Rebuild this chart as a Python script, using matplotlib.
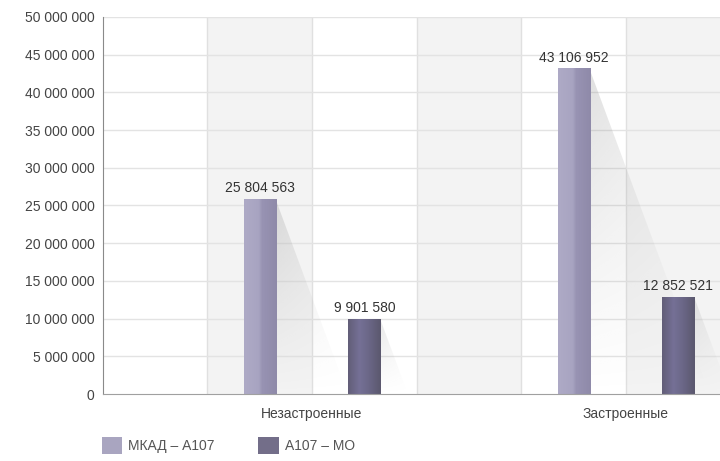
import numpy as np
import matplotlib
matplotlib.use("Agg")
import matplotlib.pyplot as plt
from matplotlib.patches import Patch, Polygon
from matplotlib.colors import to_rgb
from matplotlib.ticker import FuncFormatter

categories = ["Незастроенные", "Застроенные"]
series_names = ["МКАД – А107", "А107 – МО"]
mkad_a107 = [25804563, 43106952]
a107_mo = [9901580, 12852521]
y_ticks = list(range(0, 50_000_001, 5_000_000))

plt.rcParams['font.family'] = ['Liberation Sans', 'DejaVu Sans']


def spaced(v, _pos=None):
    return f"{int(v):,}".replace(",", " ")


W, H = 720, 461
fig = plt.figure(figsize=(W / 100, H / 100), dpi=100)
ax = fig.add_axes([103 / W, 1 - 394 / H, 1 - 103 / W, (394 - 17) / H])
XLIM = (-0.666, 1.30)
YLIM = (0, 50_000_000)
ax.set_xlim(*XLIM)
ax.set_ylim(*YLIM)

x = np.arange(len(categories))

# alternating background bands and vertical separators
edges = (np.arange(7) - 2) / 3
for i in range(len(edges) - 1):
    if i % 2 == 1:
        ax.axvspan(edges[i], edges[i + 1], color='#f3f3f3', lw=0, zorder=0)
for e in edges[1:]:
    ax.axvline(e, color='#e0e0e0', lw=1, zorder=0.5)
for t in y_ticks[1:]:
    ax.axhline(t, color='#e3e3e3', lw=1, zorder=0.5)

bar_w = 0.102
offset = 1 / 6
base_colors = ['#a29ebc', '#6f6a87']
bars_a = ax.bar(x - offset, mkad_a107, bar_w, color=base_colors[0], zorder=2)
bars_b = ax.bar(x + offset, a107_mo, bar_w, color=base_colors[1], zorder=2)


# horizontal shading across each bar
def column_gradient(stops, n=64):
    pos = np.array([s[0] for s in stops])
    cols = np.array([to_rgb(s[1]) for s in stops])
    t = np.linspace(0, 1, n)
    rgb = np.stack([np.interp(t, pos, cols[:, k]) for k in range(3)], axis=-1)
    return rgb[np.newaxis, :, :]


grad_a = column_gradient([(0, '#aeaac6'), (0.45, '#a8a4c1'), (0.55, '#9893b3'), (1, '#8f8aa9')])
grad_b = column_gradient([(0, '#625e78'), (0.35, '#757096'), (0.6, '#6c6889'), (1, '#5b586e')])

# cast shadow to the lower right of each bar
fig.canvas.draw()
to_px = ax.transData
inv = ax.transData.inverted()
slope_px = 0.37  # horizontal px per vertical px


def draw_shadow(rect, strength):
    xr = rect.get_x() + rect.get_width()
    h = rect.get_height()
    p_top = to_px.transform((xr, h))
    p_bot = to_px.transform((xr, 0))
    dx_px = slope_px * (p_top[1] - p_bot[1])
    x_end = inv.transform((p_bot[0] + dx_px, p_bot[1]))[0]
    tri = Polygon([(xr, h), (x_end, 0), (xr, 0)], closed=True,
                  transform=ax.transData, facecolor='none', edgecolor='none')
    ax.add_patch(tri)
    ny, nx = 100, 60
    yy = np.linspace(1, 0, ny)[:, None]
    xx = np.linspace(0, 1, nx)[None, :]
    alpha = strength * (yy ** 1.1) * (0.35 + 0.65 * (1 - xx))
    img = np.zeros((ny, nx, 4))
    img[..., :3] = 0.6
    img[..., 3] = alpha
    im = ax.imshow(img, extent=[xr, x_end, 0, h], aspect='auto',
                   zorder=1, interpolation='bilinear')
    im.set_clip_path(tri)


for rect in bars_a:
    draw_shadow(rect, 0.30)
    ax.imshow(grad_a, extent=[rect.get_x(), rect.get_x() + rect.get_width(), 0, rect.get_height()],
              aspect='auto', zorder=2.1, interpolation='bilinear')
for rect in bars_b:
    draw_shadow(rect, 0.22)
    ax.imshow(grad_b, extent=[rect.get_x(), rect.get_x() + rect.get_width(), 0, rect.get_height()],
              aspect='auto', zorder=2.1, interpolation='bilinear')

ax.bar_label(bars_a, labels=[spaced(v) for v in mkad_a107], padding=3,
             fontsize=10, color='#333333')
ax.bar_label(bars_b, labels=[spaced(v) for v in a107_mo], padding=3,
             fontsize=10, color='#333333')

ax.set_xlim(*XLIM)
ax.set_ylim(*YLIM)
ax.set_yticks(y_ticks)
ax.yaxis.set_major_formatter(FuncFormatter(spaced))
ax.set_xticks(x, categories)
ax.tick_params(axis='y', length=0, pad=6, labelsize=10, colors='#444444')
ax.tick_params(axis='x', length=0, pad=9, labelsize=10, colors='#444444')
for side in ('top', 'right'):
    ax.spines[side].set_visible(False)
ax.spines['left'].set_color('#8a8a8a')
ax.spines['bottom'].set_color('#a0a0a0')
ax.spines['left'].set_zorder(3)
ax.spines['bottom'].set_zorder(3)

handles = [Patch(facecolor='#a9a5c0', edgecolor='none'),
           Patch(facecolor='#736e89', edgecolor='none')]
fig.legend(handles, series_names, loc='lower left', bbox_to_anchor=(89 / W, -0.012),
           ncol=2, frameon=False, fontsize=10, handlelength=1.5, handleheight=1.5,
           handletextpad=0.4, columnspacing=3.15, labelcolor='#555555')

fig.savefig('out.png', dpi=100)
